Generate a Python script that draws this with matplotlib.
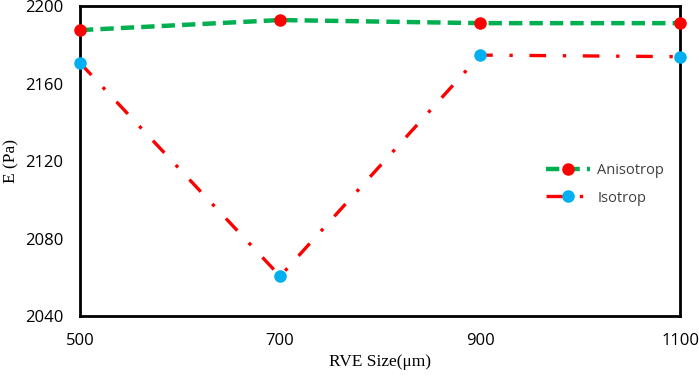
import matplotlib
matplotlib.use("Agg")
from matplotlib import pyplot as plt

rve_size = [500, 700, 900, 1100]
anisotrop = [2187.6, 2192.8, 2191.2, 2191.2]
isotrop = [2170.7, 2060.6, 2174.7, 2173.9]

x_ticks = [500, 700, 900, 1100]
y_ticks = [2040, 2080, 2120, 2160, 2200]

fig = plt.figure(figsize=(6.99, 3.8), dpi=100)
ax = fig.add_axes([0.1144, 0.168, 0.859, 0.816])

ax.plot(rve_size, anisotrop, color="#00b050", linestyle=(0, (3, 1.6)), linewidth=3.2,
        marker="o", markersize=8, markerfacecolor="red", markeredgecolor="red",
        label="Anisotrop", clip_on=False, zorder=3)
ax.plot(rve_size, isotrop, color="red", linestyle=(0, (5, 5, 1, 5)), linewidth=2.4,
        marker="o", markersize=8, markerfacecolor="#00b0f0", markeredgecolor="#00b0f0",
        label="Isotrop", clip_on=False, zorder=3)

ax.set_xlim(500, 1100)
ax.set_ylim(2040, 2200)
ax.set_xticks(x_ticks)
ax.set_yticks(y_ticks)
ax.tick_params(length=0, pad=12, labelsize=12)
for lbl in ax.get_xticklabels() + ax.get_yticklabels():
    lbl.set_family("Open Sans")
for s in ax.spines.values():
    s.set_linewidth(2)

ax.set_xlabel("RVE Size(μm)", family="Liberation Serif", fontsize=12.5)
ax.set_ylabel("E (Pa)", family="Liberation Serif", fontsize=12.5)

ax.legend(loc="center left", bbox_to_anchor=(0.755, 0.425), frameon=False,
          handlelength=3, handletextpad=0.5, labelspacing=0.85,
          prop={"family": "Open Sans", "size": 10.5}, labelcolor="#404040")

fig.savefig("out.png", dpi=100)
